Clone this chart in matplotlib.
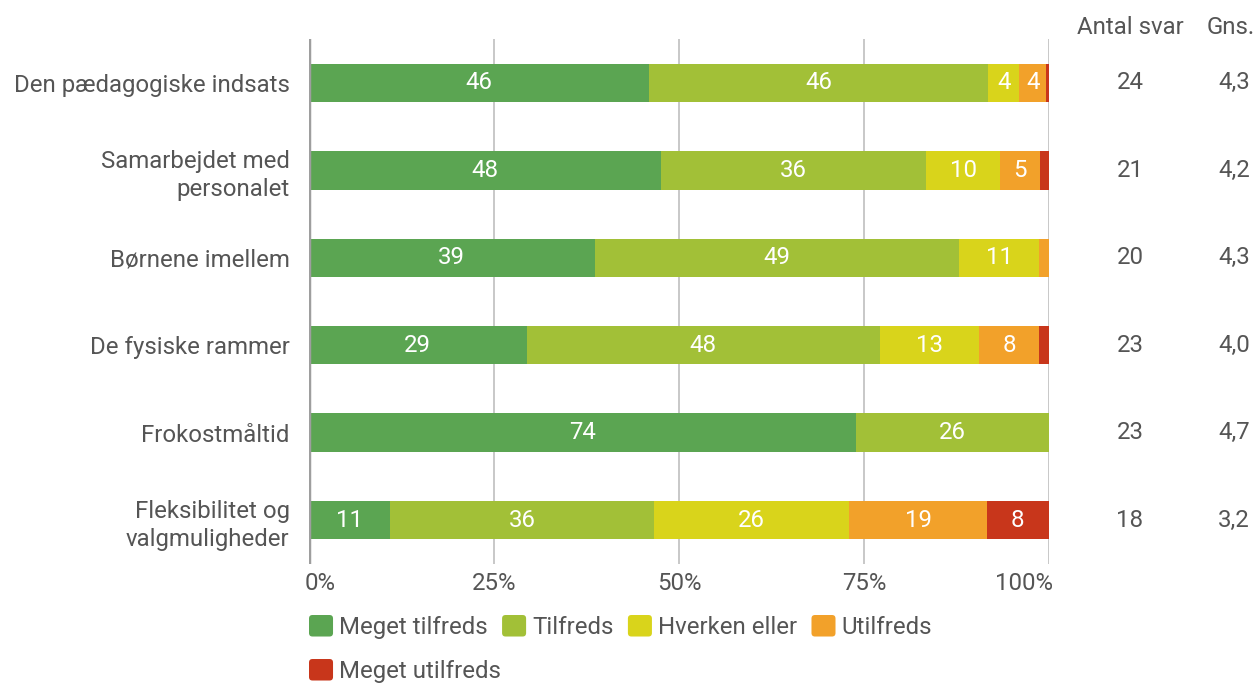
import matplotlib.pyplot as plt
import matplotlib.transforms as mtransforms
import numpy as np
from matplotlib.patches import Patch, FancyBboxPatch
from matplotlib.legend_handler import HandlerBase

plt.rcParams['font.family'] = ['Roboto', 'DejaVu Sans']

categories = ["Den pædagogiske indsats", "Samarbejdet med\npersonalet",
              "Børnene imellem", "De fysiske rammer", "Frokostmåltid",
              "Fleksibilitet og\nvalgmuligheder"]
series = ["Meget tilfreds", "Tilfreds", "Hverken eller", "Utilfreds", "Meget utilfreds"]
colors = ["#5ba552", "#a2c037", "#d9d41b", "#f2a12a", "#c8361b"]

# percentages per category, one list per series
meget_tilfreds = [46.0, 47.6, 38.6, 29.4, 73.9, 11.0]
tilfreds = [45.8, 35.8, 49.3, 47.8, 26.1, 35.6]
hverken = [4.2, 10.0, 10.7, 13.4, 0.0, 26.4]
utilfreds = [3.6, 5.4, 1.4, 8.0, 0.0, 18.6]
meget_utilfreds = [0.4, 1.2, 0.0, 1.4, 0.0, 8.4]

antal_svar = [24, 21, 20, 23, 23, 18]
gns = ["4,3", "4,2", "4,3", "4,0", "4,7", "3,2"]

xticks = [0, 25, 50, 75, 100]
xticklabels = ["0%", "25%", "50%", "75%", "100%"]


class RoundSquare(HandlerBase):
    # rounded legend swatches
    def create_artists(self, legend, orig_handle, xdescent, ydescent,
                       width, height, fontsize, trans):
        p = FancyBboxPatch((-xdescent, -ydescent), width, height,
                           boxstyle="round,pad=0,rounding_size=2.5",
                           facecolor=orig_handle.get_facecolor(),
                           edgecolor="none", transform=trans)
        return [p]


text_col = "#555555"
fs = 17.3
fig = plt.figure(figsize=(12.59, 6.84), dpi=100)
ax = fig.add_axes([0.2454, 0.1755, 0.5878, 0.7674])

data = [meget_tilfreds, tilfreds, hverken, utilfreds, meget_utilfreds]
y = np.arange(len(categories))
left = np.zeros(len(categories))
for vals, name, col in zip(data, series, colors):
    vals = np.array(vals)
    ax.barh(y, vals, left=left, height=0.44, color=col, label=name, zorder=3)
    for yi, l, v in zip(y, left, vals):
        if v >= 3:
            ax.text(l + v / 2, yi, str(int(round(v))), ha="center", va="center",
                    color="white", fontsize=fs, zorder=4)
    left += vals

ax.set_xlim(0, 100)
ax.set_ylim(5.5, -0.5)
ax.set_xticks(xticks)
ax.set_xticklabels(xticklabels)
ax.set_yticks(y)
ax.set_yticklabels(categories, linespacing=1.3)
ax.tick_params(axis="both", length=0, labelsize=fs, colors=text_col)
ax.tick_params(axis="x", pad=6)
ax.tick_params(axis="y", pad=14)

# first and last x labels sit inside the axis ends
xl = ax.get_xticklabels()
xl[0].set_ha("left")
xl[0].set_transform(xl[0].get_transform() +
                    mtransforms.ScaledTranslation(-4 / 100, 0, fig.dpi_scale_trans))
xl[-1].set_ha("right")
xl[-1].set_transform(xl[-1].get_transform() +
                     mtransforms.ScaledTranslation(4 / 100, 0, fig.dpi_scale_trans))

for s in ax.spines.values():
    s.set_visible(False)
for xt in xticks[1:]:
    ax.axvline(xt, color="#c4c4c4", lw=1.3, zorder=1)
ax.axvline(0, color="#9e9e9e", lw=2.5, zorder=5)

# right-hand columns
fig.text(1130 / 1259, 1 - 27 / 684, "Antal svar", ha="center", va="center",
         fontsize=fs, color=text_col)
fig.text(1255 / 1259, 1 - 27 / 684, "Gns.", ha="right", va="center",
         fontsize=fs, color=text_col)
for yi, n, g in zip(y, antal_svar, gns):
    ax.annotate(str(n), xy=(1, yi), xycoords=("axes fraction", "data"),
                xytext=(1130 / 1259, 0), textcoords=("figure fraction", "offset points"),
                ha="center", va="center", fontsize=fs, color=text_col)
    ax.annotate(g, xy=(1, yi), xycoords=("axes fraction", "data"),
                xytext=(1250 / 1259, 0), textcoords=("figure fraction", "offset points"),
                ha="right", va="center", fontsize=fs, color=text_col)

proxies = [Patch(facecolor=c) for c in colors]
leg_kw = dict(frameon=False, fontsize=fs, handlelength=1.0, handleheight=1.0,
              handletextpad=0.25, columnspacing=0.6, borderaxespad=0, borderpad=0,
              handler_map={Patch: RoundSquare()})
leg1 = fig.legend(proxies[:4], series[:4], loc="center left",
                  bbox_to_anchor=(309 / 1259, 1 - 627 / 684), ncol=4, **leg_kw)
for t in leg1.get_texts():
    t.set_color(text_col)
leg2 = fig.legend(proxies[4:], series[4:], loc="center left",
                  bbox_to_anchor=(309 / 1259, 1 - 671 / 684), ncol=1, **leg_kw)
for t in leg2.get_texts():
    t.set_color(text_col)

fig.savefig("out.png", dpi=100)
